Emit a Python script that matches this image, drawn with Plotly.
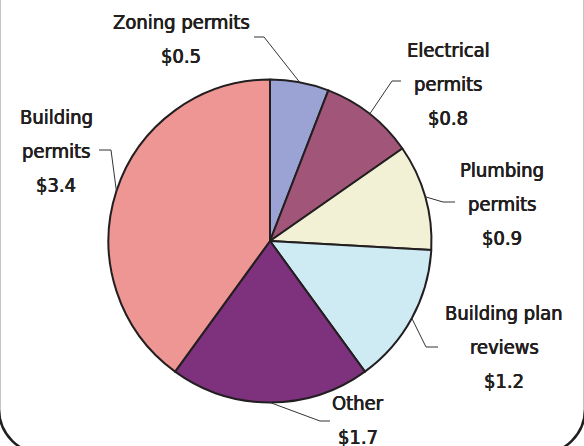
import math
import plotly.graph_objects as go

# ---- data ----
categories = ["Zoning permits", "Electrical permits", "Plumbing permits",
              "Building plan reviews", "Other", "Building permits"]
values = [0.5, 0.8, 0.9, 1.2, 1.7, 3.4]
value_labels = ["$0.5", "$0.8", "$0.9", "$1.2", "$1.7", "$3.4"]
colors = ["#9BA3D5", "#A05579", "#F2F1D6", "#CEEAF3", "#7E317D", "#EE9694"]

# label lines (text lines shown per slice)
label_lines = [
    ["Zoning permits", "$0.5"],
    ["Electrical", "permits", "$0.8"],
    ["Plumbing", "permits", "$0.9"],
    ["Building plan", "reviews", "$1.2"],
    ["Other", "$1.7"],
    ["Building", "permits", "$3.4"],
]

# ---- layout constants (pixels) ----
W, H = 584, 446
CX, CY, R = 270, 241, 161.5
FONT = "DejaVu Sans Condensed, Liberation Sans Narrow, Arial Narrow, sans-serif"
TXT = "#231f20"
LINE_H = 34
# first-line centre of each label block
label_pos = [(181, 22), (448, 50), (502, 170), (504, 313), (358, 403), (56, 117)]
# leader elbow and end points
leader_pts = [
    [(264, 37), (254, 37)],
    [(392, 81), (401, 81)],
    [(443, 202), (455, 202)],
    [(426, 347), (438, 347)],
    [(320, 421), (330, 421)],
    [(111, 150), (99, 150)],
]


def px(x):
    return x / W


def py(y):
    return 1 - y / H


fig = go.Figure(go.Pie(
    labels=categories,
    values=values,
    sort=False,
    direction="clockwise",
    rotation=0,
    marker=dict(colors=colors, line=dict(color="#231f20", width=2)),
    textinfo="none",
    hoverinfo="skip",
    showlegend=False,
    domain=dict(x=[px(CX - R), px(CX + R)], y=[py(CY + R), py(CY - R)]),
))

annotations = []
shapes = []
total = sum(values)
cum = 0.0
for i, v in enumerate(values):
    mid = (cum + v / 2) / total * 2 * math.pi
    cum += v
    sx = CX + R * math.sin(mid)
    sy = CY - R * math.cos(mid)
    (ex, ey), (fx, fy) = leader_pts[i]
    shapes.append(dict(
        type="path", xref="paper", yref="paper",
        path=f"M {px(sx)},{py(sy)} L {px(ex)},{py(ey)} L {px(fx)},{py(fy)}",
        line=dict(color="#333333", width=1),
    ))
    lx, ly = label_pos[i]
    for j, t in enumerate(label_lines[i]):
        annotations.append(dict(
            x=px(lx), y=py(ly + j * LINE_H), xref="paper", yref="paper",
            text=t, showarrow=False, xanchor="center", yanchor="middle",
            font=dict(family=FONT, size=20, color=TXT,
                      shadow="0.35px 0 0 #231f20, -0.35px 0 0 #231f20"),
        ))

# rounded frame at the bottom
L, Rt, B, r = -1, 585, 454, 45
k = 0.5523 * r
frame = (f"M {px(L)},{py(-10)} L {px(L)},{py(B - r)} "
         f"C {px(L)},{py(B - r + k)} {px(L + r - k)},{py(B)} {px(L + r)},{py(B)} "
         f"L {px(Rt - r)},{py(B)} "
         f"C {px(Rt - r + k)},{py(B)} {px(Rt)},{py(B - r + k)} {px(Rt)},{py(B - r)} "
         f"L {px(Rt)},{py(-10)}")
shapes.append(dict(type="path", xref="paper", yref="paper", path=frame,
                   line=dict(color="#231f20", width=2.5)))

fig.update_layout(
    width=W, height=H,
    margin=dict(l=0, r=0, t=0, b=0),
    paper_bgcolor="white",
    plot_bgcolor="white",
    annotations=annotations,
    shapes=shapes,
)

fig.write_html(
    "out.html",
    config={"displayModeBar": False},
    post_script="document.body.style.margin='0';document.body.style.overflow='hidden';",
)
